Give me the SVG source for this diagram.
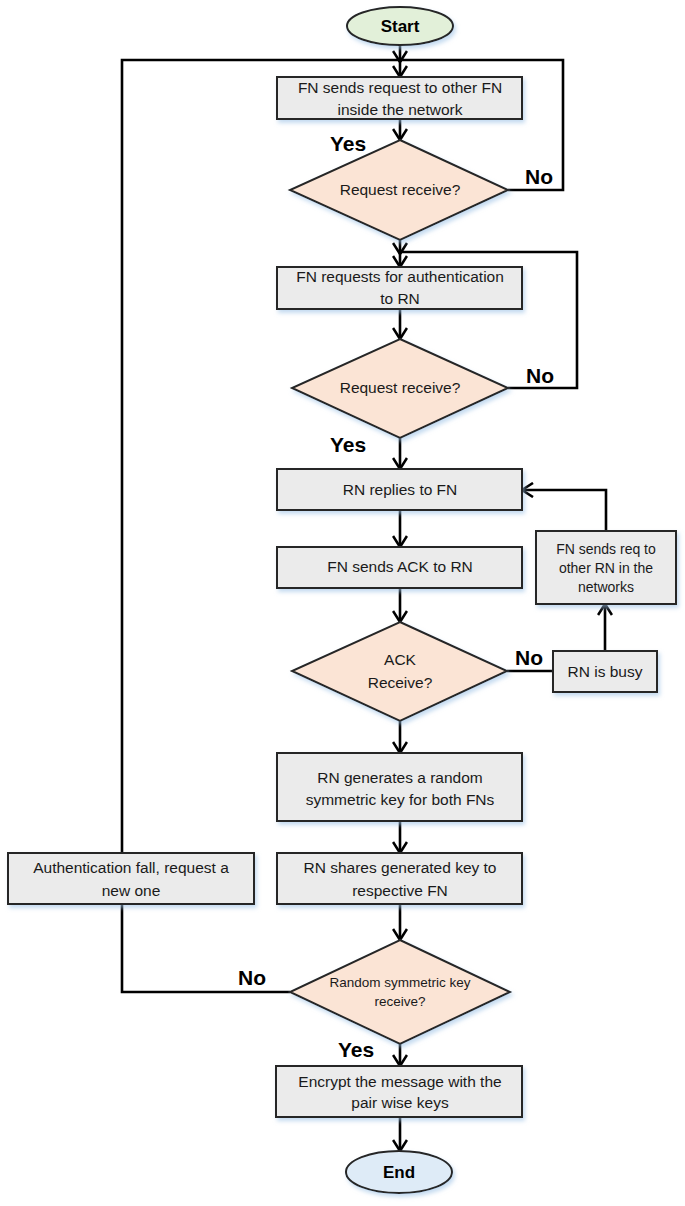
<svg xmlns="http://www.w3.org/2000/svg" width="685" height="1206" viewBox="0 0 685 1206">
<defs>
<filter id="sh" x="-10%" y="-20%" width="130%" height="150%">
<feDropShadow dx="2" dy="3" stdDeviation="2" flood-color="#9dc3e6" flood-opacity="0.6"/>
</filter>
<marker id="ar" viewBox="0 0 16 16" refX="14" refY="8" markerWidth="16" markerHeight="16" markerUnits="userSpaceOnUse" orient="auto">
<path d="M3,1 L14,8 L3,15" fill="none" stroke="#000" stroke-width="2.6"/>
</marker>
<style>
.box{fill:#ebebeb;stroke:#262626;stroke-width:2;filter:url(#sh)}
.dia{fill:#fbe4d5;stroke:#262626;stroke-width:2;filter:url(#sh)}
.t{font-family:"Liberation Sans",Arial,sans-serif;font-size:15.5px;fill:#1a1a1a;text-anchor:middle}
.s{font-size:13.5px}
.m{font-size:14px}
.lab{font-family:"Liberation Sans",Arial,sans-serif;font-size:21px;font-weight:bold;fill:#000}
.term{font-family:"Liberation Sans",Arial,sans-serif;font-size:17px;font-weight:bold;fill:#000;text-anchor:middle}
.c{fill:none;stroke:#000;stroke-width:2.6}
.ca{fill:none;stroke:#000;stroke-width:2.6;marker-end:url(#ar)}
</style>
</defs>

<g id="connectors">
<path class="ca" d="M400,45 V62"/>
<path class="c" d="M122,853 V60 H400"/>
<path class="c" d="M508,190 H563 V60 H400"/>
<path class="ca" d="M400,60 V77"/>
<path class="ca" d="M400,119 V140"/>
<path class="ca" d="M400,240 V254"/>
<path class="c" d="M508,388 H577 V252 H400"/>
<path class="ca" d="M400,252 V267"/>
<path class="ca" d="M400,309 V339"/>
<path class="ca" d="M400,438 V469"/>
<path class="ca" d="M400,510 V547"/>
<path class="ca" d="M400,588 V622"/>
<path class="c" d="M507,671 H553"/>
<path class="ca" d="M605,651 V604"/>
<path class="ca" d="M606,531 V490 H522"/>
<path class="ca" d="M400,721 V753"/>
<path class="ca" d="M400,821 V853"/>
<path class="ca" d="M400,904 V940"/>
<path class="c" d="M122,904 V992 H290"/>
<path class="ca" d="M400,1044 V1066"/>
<path class="ca" d="M400,1117 V1151"/>
</g>

<g id="start">
<ellipse cx="400" cy="26" rx="53" ry="19" fill="#e2f0d9" stroke="#262626" stroke-width="2" filter="url(#sh)"/>
<text class="term" x="400" y="32">Start</text>
</g>

<g id="box1">
<rect class="box" x="277" y="77" width="245" height="42"/>
<text class="t" x="400" y="93">FN sends request to other FN</text>
<text class="t" x="400" y="115">inside the network</text>
</g>

<g id="dec1">
<polygon class="dia" points="400,140 508,190 400,240 290,190"/>
<text class="t" x="400" y="195">Request receive?</text>
</g>

<g id="box2">
<rect class="box" x="277" y="267" width="245" height="42"/>
<text class="t" x="400" y="282">FN requests for authentication</text>
<text class="t" x="400" y="304">to RN</text>
</g>

<g id="dec2">
<polygon class="dia" points="400,339 508,388 400,438 292,388"/>
<text class="t" x="400" y="393">Request receive?</text>
</g>

<g id="box3">
<rect class="box" x="277" y="469" width="245" height="41"/>
<text class="t" x="400" y="495">RN replies to FN</text>
</g>

<g id="box4">
<rect class="box" x="277" y="547" width="245" height="41"/>
<text class="t" x="400" y="572">FN sends ACK to RN</text>
</g>

<g id="dec3">
<polygon class="dia" points="400,622 507,671 400,721 292,671"/>
<text class="t" x="400" y="665">ACK</text>
<text class="t" x="400" y="688">Receive?</text>
</g>

<g id="busy">
<rect class="box" x="553" y="651" width="104" height="41"/>
<text class="t" x="605" y="677">RN is busy</text>
</g>

<g id="otherRN">
<rect class="box" x="536" y="531" width="140" height="73"/>
<text class="t m" x="606" y="554">FN sends req to</text>
<text class="t m" x="606" y="573">other RN in the</text>
<text class="t m" x="606" y="592">networks</text>
</g>

<g id="box5">
<rect class="box" x="277" y="753" width="245" height="68"/>
<text class="t" x="400" y="783">RN generates a random</text>
<text class="t" x="400" y="805">symmetric key for both FNs</text>
</g>

<g id="box6">
<rect class="box" x="277" y="853" width="245" height="51"/>
<text class="t" x="400" y="873">RN shares generated key to</text>
<text class="t" x="400" y="896">respective FN</text>
</g>

<g id="authfail">
<rect class="box" x="8" y="853" width="246" height="51"/>
<text class="t" x="131" y="873">Authentication fall, request a</text>
<text class="t" x="131" y="896">new one</text>
</g>

<g id="dec4">
<polygon class="dia" points="400,940 510,992 400,1044 290,992"/>
<text class="t s" x="400" y="987">Random symmetric key</text>
<text class="t s" x="400" y="1006">receive?</text>
</g>

<g id="box7">
<rect class="box" x="276" y="1066" width="246" height="51"/>
<text class="t" x="400" y="1087">Encrypt the message with the</text>
<text class="t" x="400" y="1108">pair wise keys</text>
</g>

<g id="end">
<ellipse cx="399" cy="1172" rx="53" ry="21" fill="#deebf7" stroke="#262626" stroke-width="2" filter="url(#sh)"/>
<text class="term" x="399" y="1178">End</text>
</g>

<g id="labels">
<text class="lab" x="330" y="151">Yes</text>
<text class="lab" x="525" y="184">No</text>
<text class="lab" x="526" y="383">No</text>
<text class="lab" x="330" y="452">Yes</text>
<text class="lab" x="515" y="665">No</text>
<text class="lab" x="238" y="985">No</text>
<text class="lab" x="338" y="1057">Yes</text>
</g>
</svg>
